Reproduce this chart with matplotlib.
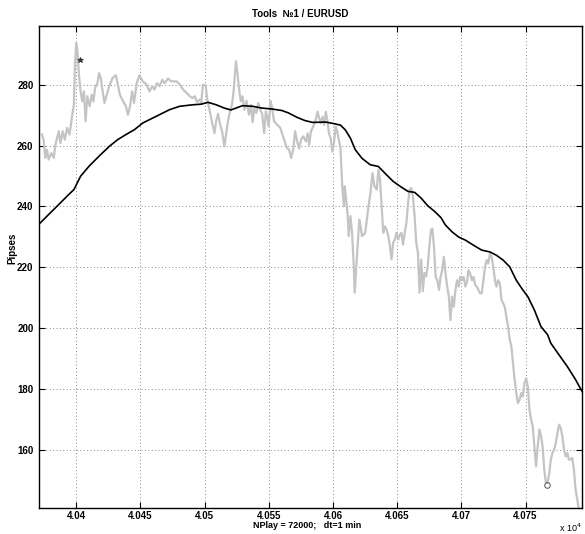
import matplotlib.pyplot as plt
import numpy as np
from matplotlib.ticker import FuncFormatter

plt.rcParams['font.family'] = ['Liberation Sans', 'DejaVu Sans']

# price trace (grey)
gray_x = [40373.3, 40374.6, 40375.9, 40377.2, 40378.5, 40380.6, 40382.5, 40383.8, 40385.1, 40386.4,
          40387.7, 40389.5, 40391.1, 40392.9, 40394.8, 40396.9, 40398.2, 40399.0, 40400.0, 40401.0,
          40402.1, 40403.4, 40404.7, 40406.0, 40407.3, 40408.6, 40410.5, 40412.0, 40413.4, 40414.7,
          40416.5, 40417.8, 40419.1, 40420.4, 40422.0, 40423.8, 40425.7, 40428.3, 40430.9, 40432.2,
          40434.0, 40436.6, 40438.7, 40440.3, 40441.9, 40443.5, 40445.0, 40447.1, 40449.2, 40451.8,
          40454.5, 40457.1, 40459.2, 40461.0, 40462.8, 40464.9, 40467.0, 40468.8, 40471.5, 40474.1,
          40478.2, 40480.8, 40483.3, 40485.9, 40488.5, 40490.5, 40492.3, 40494.1, 40496.2, 40497.4,
          40498.7, 40500.8, 40502.1, 40503.8, 40505.9, 40507.7, 40509.0, 40510.5, 40512.1, 40513.6,
          40515.4, 40516.7, 40518.2, 40519.7, 40521.3, 40522.6, 40524.4, 40525.6, 40526.9, 40528.2,
          40529.5, 40531.0, 40532.6, 40534.6, 40536.2, 40537.4, 40538.7, 40540.3, 40541.8, 40543.3,
          40544.9, 40546.4, 40547.7, 40549.0, 40550.0, 40551.3, 40552.6, 40554.1, 40556.4, 40559.0,
          40561.5, 40564.1, 40565.9, 40567.4, 40569.0, 40570.5, 40572.1, 40573.6, 40575.1, 40576.9,
          40579.0, 40580.3, 40581.5, 40582.8, 40584.6, 40586.2, 40588.0, 40589.2, 40590.5, 40591.8,
          40593.1, 40594.4, 40595.6, 40596.9, 40598.2, 40599.5, 40600.8, 40602.1, 40603.3, 40604.6,
          40605.9, 40607.2, 40608.5, 40609.2, 40610.3, 40611.5, 40612.3, 40613.6, 40614.9, 40616.2,
          40616.9, 40617.9, 40619.5, 40620.5, 40621.5, 40622.6, 40625.1, 40627.7, 40629.2, 40630.8,
          40632.3, 40634.1, 40635.4, 40636.7, 40637.9, 40639.2, 40640.5, 40641.8, 40643.1, 40644.4,
          40645.6, 40646.9, 40648.2, 40649.5, 40650.8, 40652.1, 40653.3, 40654.6, 40655.9, 40657.2,
          40658.5, 40659.7, 40661.0, 40662.3, 40663.6, 40664.9, 40666.2, 40667.4, 40668.7, 40670.0,
          40671.3, 40672.6, 40673.8, 40675.1, 40676.4, 40677.4, 40678.7, 40680.0, 40681.3, 40682.6,
          40683.8, 40685.1, 40686.4, 40687.7, 40689.0, 40690.3, 40691.5, 40692.8, 40694.1, 40695.4,
          40696.7, 40697.9, 40699.2, 40700.5, 40701.8, 40703.1, 40704.4, 40705.6, 40706.9, 40708.2,
          40709.5, 40710.8, 40712.1, 40713.3, 40714.6, 40715.9, 40717.2, 40718.5, 40719.7, 40721.0,
          40722.3, 40723.6, 40724.9, 40726.2, 40727.4, 40728.7, 40730.0, 40731.3, 40732.6, 40733.8,
          40735.1, 40736.4, 40737.7, 40739.0, 40740.3, 40741.5, 40742.8, 40744.1, 40745.4, 40746.7,
          40747.9, 40749.2, 40750.5, 40751.8, 40753.1, 40754.4, 40755.6, 40756.9, 40758.2, 40759.5,
          40760.8, 40762.1, 40763.3, 40764.6, 40765.9, 40767.2, 40768.5, 40769.7, 40771.0, 40772.3,
          40773.6, 40774.9, 40776.2, 40777.4, 40778.7, 40780.0, 40781.3, 40782.6, 40783.8, 40785.1,
          40786.4, 40787.7, 40789.0, 40790.3, 40791.5, 40793.5]
gray_y = [263.6, 261.9, 255.9, 258.6, 255.4, 257.5, 255.9, 260.3, 262.5, 264.7,
          260.8, 264.7, 261.9, 265.8, 263.6, 270.1, 273.4, 286.6, 293.7, 291.0,
          283.3, 277.8, 274.5, 277.8, 268.0, 276.2, 272.9, 276.7, 274.5, 278.9,
          280.5, 283.8, 282.2, 278.4, 274.0, 276.7, 279.5, 282.2, 283.1, 280.5,
          276.7, 274.5, 272.9, 270.1, 272.9, 277.8, 274.0, 280.5, 283.1, 281.1,
          280.2, 277.8, 279.5, 278.4, 280.5, 279.5, 281.6, 280.5, 282.0, 281.1,
          281.1, 280.0, 278.4, 277.3, 276.2, 275.6, 276.2, 274.3, 275.1, 274.0,
          280.0, 279.8, 275.1, 271.8, 267.4, 264.1, 268.0, 270.4, 266.9, 264.7,
          259.7, 263.6, 268.0, 271.0, 273.4, 277.8, 287.7, 283.8, 278.4, 274.5,
          276.2, 271.8, 274.7, 270.1, 273.4, 267.7, 272.1, 270.7, 274.0, 271.8,
          270.4, 264.1, 271.2, 269.0, 266.3, 274.7, 272.3, 268.0, 266.9, 265.8,
          262.5, 259.2, 258.6, 255.9, 258.6, 264.7, 261.4, 259.0, 261.9, 263.0,
          261.3, 264.0, 260.2, 264.6, 266.2, 267.9, 271.1, 269.0, 267.3, 269.5,
          266.8, 271.1, 268.4, 264.0, 262.4, 258.0, 260.8, 266.2, 264.6, 261.9,
          259.1, 246.6, 240.0, 246.6, 242.2, 236.8, 230.2, 236.8, 231.3, 220.3,
          211.6, 218.2, 229.1, 235.6, 233.4, 230.2, 231.3, 240.0, 244.4, 250.9,
          246.6, 245.5, 252.0, 248.7, 240.0, 231.3, 233.4, 232.3, 230.2, 226.9,
          222.5, 228.0, 229.1, 231.3, 229.1, 230.7, 231.3, 227.4, 231.3, 234.5,
          241.1, 245.5, 246.0, 243.3, 236.7, 228.0, 224.7, 211.6, 222.5, 212.1,
          218.1, 217.0, 220.3, 226.9, 232.3, 232.7, 226.7, 216.8, 215.7, 212.5,
          216.8, 219.0, 223.4, 217.9, 213.6, 210.3, 202.6, 210.3, 207.0, 212.5,
          215.7, 213.6, 216.8, 215.7, 216.8, 213.6, 215.2, 219.0, 217.9, 215.7,
          216.8, 214.1, 213.6, 212.5, 211.4, 211.4, 215.7, 220.1, 222.3, 221.2,
          224.5, 223.4, 220.1, 215.7, 213.6, 215.7, 214.6, 209.2, 208.1, 207.0,
          203.7, 200.4, 196.1, 193.9, 188.4, 183.0, 178.6, 175.3, 176.4, 178.6,
          177.5, 181.9, 183.5, 180.8, 173.1, 169.8, 167.7, 161.1, 154.5, 161.1,
          166.6, 164.4, 161.1, 153.4, 149.1, 149.1, 152.3, 156.7, 158.9, 160.0,
          162.2, 165.5, 168.2, 167.1, 164.4, 160.0, 157.8, 158.9, 156.7, 156.7,
          157.3, 153.4, 146.9, 143.6, 140.3, 136.0]

# smoothed curve (black)
black_x = [40370.7, 40378.5, 40386.4, 40394.2, 40398.2, 40400.8, 40403.4, 40410.0, 40417.8, 40425.7,
           40432.2, 40438.7, 40445.3, 40451.8, 40462.3, 40472.8, 40480.6, 40491.0, 40497.4, 40502.6,
           40509.0, 40515.4, 40520.5, 40524.4, 40529.5, 40537.2, 40544.9, 40552.6, 40560.3, 40565.4,
           40571.8, 40578.2, 40584.1, 40594.4, 40599.5, 40605.9, 40609.7, 40613.6, 40617.4, 40622.6,
           40628.9, 40635.4, 40640.5, 40646.9, 40653.3, 40658.5, 40663.6, 40668.7, 40673.8, 40679.0,
           40684.1, 40687.7, 40692.8, 40697.9, 40703.1, 40709.5, 40715.9, 40722.3, 40727.4, 40732.6,
           40737.7, 40742.8, 40747.9, 40751.8, 40756.9, 40762.1, 40767.2, 40769.7, 40776.2, 40782.6,
           40789.0, 40794.1]
black_y = [234.0, 237.3, 240.6, 243.9, 245.5, 247.7, 249.9, 253.2, 256.5, 259.7,
           261.9, 263.6, 265.2, 267.4, 269.6, 271.8, 272.9, 273.4, 273.6, 274.2,
           273.4, 272.3, 271.7, 272.3, 273.1, 272.9, 272.3, 272.0, 271.5, 270.7,
           269.3, 268.2, 267.6, 267.7, 267.3, 266.7, 265.1, 262.4, 258.6, 255.8,
           253.7, 253.1, 250.9, 248.2, 246.3, 244.9, 244.6, 242.7, 240.2, 238.4,
           236.3, 233.8, 231.6, 229.9, 228.9, 227.2, 225.6, 225.0, 223.9, 222.3,
           220.1, 215.7, 212.5, 210.3, 205.9, 200.4, 197.8, 195.0, 191.1, 187.3,
           183.0, 179.1]

start_pt = (40402.6, 288.2)
end_pt = (40766.7, 148.5)

x_ticks = [40400, 40450, 40500, 40550, 40600, 40650, 40700, 40750]
y_ticks = [160, 180, 200, 220, 240, 260, 280]

fig = plt.figure(figsize=(5.85, 5.34), dpi=100)
ax = fig.add_axes([39/585, 1 - 508/534, (582 - 39)/585, (508 - 26)/534])

ax.plot(gray_x, gray_y, color='#c4c4c4', lw=1.6)
ax.plot(black_x, black_y, color='black', lw=1.2)
ax.plot(*start_pt, marker='*', color='#333333', ms=4, mew=0.6)
ax.plot(*end_pt, marker='o', mfc='none', mec='#555555', ms=4, mew=0.7)

ax.set_xlim(40371, 40794)
ax.set_ylim(140.8, 299.3)
ax.set_xticks(x_ticks)
ax.set_yticks(y_ticks)
ax.xaxis.set_major_formatter(FuncFormatter(lambda v, p: '%g' % (v / 1e4)))
ax.grid(True, linestyle=(0, (1, 2.5)), color='#888888', lw=0.7)
ax.tick_params(direction='in', length=4, width=0.8, labelsize=7, pad=2,
               top=True, right=True)
ax.tick_params(axis='y', pad=4)
for lab in ax.get_xticklabels() + ax.get_yticklabels():
    lab.set_fontweight('bold')
for s in ax.spines.values():
    s.set_linewidth(1.0)

fig.text(300/585, 1 - 14/534, 'Tools  №1 / EURUSD', ha='center', va='center',
         fontsize=7, fontweight='bold')
fig.text(12/585, 1 - 248/534, 'Pipses', ha='center', va='center', rotation=90,
         fontsize=7, fontweight='bold')
fig.text(307/585, 1 - 525/534, 'NPlay = 72000;   dt=1 min', ha='center', va='center',
         fontsize=6.5, fontweight='bold')
fig.text(570/585, 1 - 528/534, 'x 10$^4$', ha='center', va='center', fontsize=6.5)

fig.savefig('out.png', dpi=100)
